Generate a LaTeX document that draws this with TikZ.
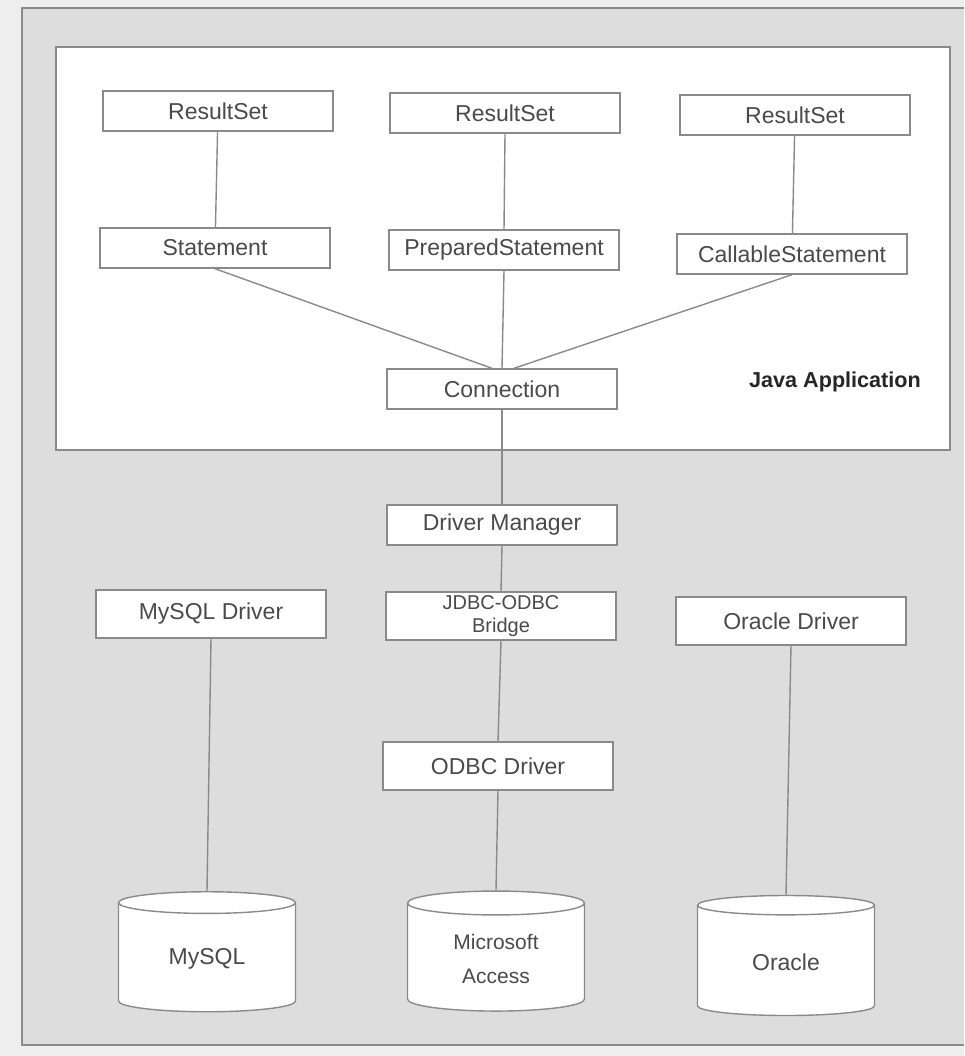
\documentclass[tikz,border=0pt]{standalone}
\usepackage{fontspec}
\setmainfont{Liberation Sans}
\usetikzlibrary{shapes.geometric}
\definecolor{bgpaper}{HTML}{DDDDDD}
\definecolor{margin}{HTML}{EEEEEE}
\definecolor{linec}{HTML}{8A8A8A}
\definecolor{txt}{HTML}{4A4A4A}
\tikzset{
  box/.style={draw=linec, line width=1.4pt, fill=white, minimum width=230pt, minimum height=40pt,
    inner sep=2pt, align=center, text=txt, font=\fontsize{23}{28}\selectfont},
  tallbox/.style={box, minimum height=48pt},
  db/.style={cylinder, shape border rotate=90, aspect=0.26, draw=linec, line width=1.4pt, fill=white,
    minimum width=177pt, minimum height=120pt, align=center, text=txt, font=\fontsize{23}{34}\selectfont},
  conn/.style={draw=linec, line width=1.4pt},
  frame/.style={draw=linec, line width=1.8pt}
}
\begin{document}
\begin{tikzpicture}[x=1pt,y=-1pt]
\useasboundingbox (0,0) rectangle (964,1056);
\fill[margin] (0,0) rectangle (964,1056);
\fill[bgpaper] (22,8) rectangle (964,1045);
\draw[frame] (964,8) -- (22,8) -- (22,1045) -- (964,1045);
% Java application container
\node[draw=linec, line width=1.6pt, fill=white, minimum width=894pt, minimum height=403pt, inner sep=0pt] (app) at (503,248.5) {};
\node[font=\fontsize{21.6}{26}\selectfont\bfseries, text=black!85] (applabel) at (835,382) {Java Application};
% boxes
\node[box] (rs1) at (218,111) {ResultSet};
\node[box] (rs2) at (505,113) {ResultSet};
\node[box] (rs3) at (795,115) {ResultSet};
\node[box] (st) at (215,248) {Statement};
\node[box] (ps) at (504,250) {PreparedStatement};
\node[box] (cs) at (792,254) {CallableStatement};
\node[box] (cn) at (502,389) {Connection};
\node[box] (dm) at (502,525) {Driver Manager};
\node[tallbox] (myd) at (211,614) {MySQL Driver};
\node[tallbox, inner sep=0pt, font=\fontsize{20}{23}\selectfont] (br) at (501,616) {JDBC-ODBC\\Bridge};
\node[tallbox] (ord) at (791,621) {Oracle Driver};
\node[tallbox] (od) at (498,766) {ODBC Driver};
\node[db] (my) at (207,959) {MySQL};
\node[db, font=\fontsize{21}{34}\selectfont] (ac) at (496,959) {Microsoft\\Access};
\node[db] (or) at (786,962) {Oracle};
% connectors
\draw[conn] (rs1) -- (st);
\draw[conn] (rs2.south) -- (ps.north);
\draw[conn] (rs3) -- (cs);
\draw[conn] (st.south) -- ([xshift=-10pt]cn.north);
\draw[conn] (ps.south) -- (cn.north);
\draw[conn] (cs.south) -- ([xshift=12pt]cn.north);
\draw[conn] (cn.south) -- (dm.north);
\draw[conn] (dm.south) -- (br.north);
\draw[conn] (br.south) -- (od.north);
\draw[conn] (od.south) -- (ac.top);
\draw[conn] (myd.south) -- (my.top);
\draw[conn] (ord.south) -- (or.top);
\end{tikzpicture}
\end{document}
